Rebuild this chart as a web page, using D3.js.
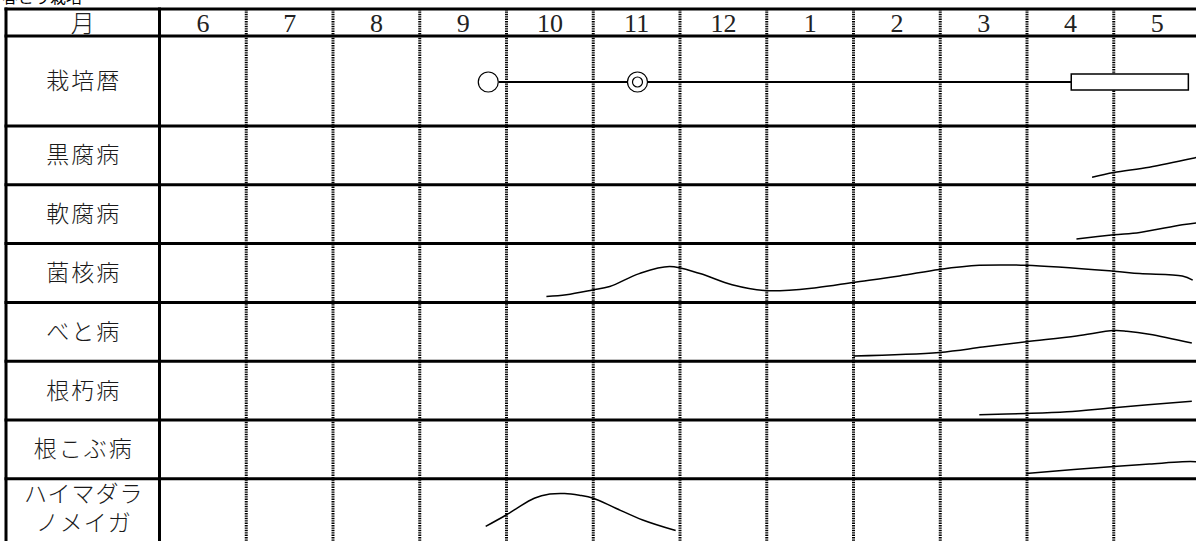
<!DOCTYPE html>
<html>
<head>
<meta charset="utf-8">
<script src="https://cdn.jsdelivr.net/npm/d3@7"></script>
<style>
  body { margin: 0; background: white; }
  svg { display: block; }
</style>
</head>
<body>
<script>
// months across the top, june to may
var months = ["6", "7", "8", "9", "10", "11", "12", "1", "2", "3", "4", "5"];
var rowLabels = ["栽培暦", "黒腐病", "軟腐病", "菌核病", "べと病", "根朽病", "根こぶ病", ["ハイマダラ", "ノメイガ"]];

// cultivation calendar (month index, 0 = start of june)
var sowing = 3.79;          // ○
var planting = 5.51;        // ◎
var harvest = [10.51, 11.86];

// disease / pest occurrence curves: [month index, level 0-100]
var kokufu = [[10.75, 13], [11.0, 21], [11.41, 30], [11.94, 46], [12.0, 48]];
var nanpu = [[10.57, 8], [11.0, 15], [11.3, 19], [11.79, 32], [12.0, 36]];
var kinkaku = [[4.46, 10], [4.69, 13], [4.99, 21], [5.19, 27], [5.53, 49], [5.88, 61], [6.23, 49], [6.6, 30],
               [7.0, 20], [7.57, 25], [8.0, 34], [8.53, 45], [8.99, 56], [9.45, 63], [9.99, 63], [11.0, 53],
               [11.3, 49], [11.79, 45], [11.91, 38]];
var beto = [[8.0, 9], [8.99, 15], [9.49, 24], [9.99, 33], [10.57, 43], [11.0, 52], [11.15, 51], [11.41, 46], [11.9, 31]];
var nekuchi = [[9.45, 9], [9.99, 11], [10.46, 14], [11.0, 21], [11.9, 32]];
var nekobu = [[9.99, 9], [11.0, 21], [11.41, 25], [11.79, 29], [12.0, 29]];
var haimadara = [[3.76, 19], [3.99, 38], [4.11, 49], [4.32, 67], [4.5, 74], [4.67, 75], [4.84, 72], [5.0, 67],
                 [5.26, 50], [5.57, 30], [5.95, 12]];
var curves = [kokufu, nanpu, kinkaku, beto, nekuchi, nekobu, haimadara];

var width = 1196, height = 541;
var marginLeft = 6, labelW = 153.5, marginTop = 9, headH = 27, calH = 90, rowH = 58.8;

var svg = d3.select("body").append("svg")
    .attr("width", width)
    .attr("height", height);

svg.append("text")
    .attr("x", 2)
    .attr("y", 3)
    .style("font-family", "'Noto Sans CJK JP'")
    .style("font-size", "16px")
    .text("春どり栽培");

var x = d3.scaleLinear()
    .domain([0, 12])
    .range([marginLeft + labelW, marginLeft + labelW + 86.75 * 12]);

// row tops
var rowTops = [marginTop + headH];
rowTops.push(rowTops[0] + calH);
for (var i = 1; i < rowLabels.length; i++) rowTops.push(rowTops[i] + rowH);

var grid = svg.append("g");

// dotted month lines
grid.selectAll(".mline")
    .data(d3.range(1, 13))
    .enter().append("line")
    .attr("x1", function(d) { return x(d); })
    .attr("x2", function(d) { return x(d); })
    .attr("y1", marginTop)
    .attr("y2", height + 10)
    .attr("stroke", "black")
    .attr("stroke-width", 3)
    .attr("stroke-dasharray", "1.4,1");

// thick horizontal lines
var hl = [marginTop].concat(rowTops.slice(0, rowTops.length - 1));
grid.selectAll(".hline")
    .data(hl)
    .enter().append("line")
    .attr("x1", marginLeft - 1.5)
    .attr("x2", width + 10)
    .attr("y1", function(d) { return d; })
    .attr("y2", function(d) { return d; })
    .attr("stroke", "black")
    .attr("stroke-width", 3);

// left border and label column border
[marginLeft, marginLeft + labelW].forEach(function(vx) {
  grid.append("line")
    .attr("x1", vx).attr("x2", vx)
    .attr("y1", marginTop - 1.5).attr("y2", height + 10)
    .attr("stroke", "black")
    .attr("stroke-width", 3);
});

// header
svg.append("text")
    .attr("x", marginLeft + labelW / 2)
    .attr("y", marginTop + headH / 2 + 9)
    .attr("text-anchor", "middle")
    .style("font-family", "'Noto Sans CJK JP'")
    .style("font-weight", 300)
    .style("font-size", "24px")
    .style("fill", "#222")
    .text("月");

svg.selectAll(".month")
    .data(months)
    .enter().append("text")
    .attr("x", function(d, i) { return x(i + 0.5); })
    .attr("y", marginTop + headH / 2 + 9.5)
    .attr("text-anchor", "middle")
    .style("font-family", "'Liberation Serif', serif")
    .style("font-size", "26px")
    .style("fill", "#222")
    .text(function(d) { return d; });

// row labels
rowLabels.forEach(function(lab, i) {
  var h = i === 0 ? calH : rowH;
  var cy = rowTops[i] + h / 2;
  var t = svg.append("text")
    .attr("x", marginLeft + labelW / 2 + 1)
    .attr("text-anchor", "middle")
    .style("font-family", "'Noto Sans CJK JP'")
    .style("font-weight", 300)
    .style("font-size", "23px")
    .style("fill", "#1a1a1a")
    .style("letter-spacing", "2px");
  if (Array.isArray(lab)) {
    t.style("letter-spacing", "1px");
    t.selectAll("tspan")
      .data(lab)
      .enter().append("tspan")
      .attr("x", marginLeft + labelW / 2 + 1)
      .attr("y", function(d, j) { return cy - 6 + j * 29; })
      .text(function(d) { return d; });
  } else {
    t.attr("y", cy + 8).text(lab);
  }
});

// cultivation row
var calY = rowTops[0] + calH / 2 + 1;
svg.append("line")
    .attr("x1", x(sowing) + 10.5)
    .attr("x2", x(harvest[0]))
    .attr("y1", calY).attr("y2", calY)
    .attr("stroke", "black")
    .attr("stroke-width", 1.8);
svg.append("circle")
    .attr("cx", x(sowing)).attr("cy", calY).attr("r", 10)
    .attr("fill", "white").attr("stroke", "black").attr("stroke-width", 1.2);
svg.append("circle")
    .attr("cx", x(planting)).attr("cy", calY).attr("r", 10)
    .attr("fill", "white").attr("stroke", "black").attr("stroke-width", 1.2);
svg.append("circle")
    .attr("cx", x(planting)).attr("cy", calY).attr("r", 5)
    .attr("fill", "white").attr("stroke", "black").attr("stroke-width", 1.2);
svg.append("rect")
    .attr("x", x(harvest[0]))
    .attr("y", calY - 8)
    .attr("width", x(harvest[1]) - x(harvest[0]))
    .attr("height", 16)
    .attr("fill", "white")
    .attr("stroke", "black")
    .attr("stroke-width", 1.5);

// occurrence curves
curves.forEach(function(c, i) {
  var t0 = rowTops[i + 1];
  var y = d3.scaleLinear().domain([0, 100]).range([t0 + rowH, t0]);
  var line = d3.line()
    .x(function(d) { return x(d[0]); })
    .y(function(d) { return y(d[1]); })
    .curve(d3.curveCatmullRom.alpha(0.5));
  svg.append("path")
    .datum(c)
    .attr("d", line)
    .attr("fill", "none")
    .attr("stroke", "black")
    .attr("stroke-width", 1.5);
});
</script>
</body>
</html>
